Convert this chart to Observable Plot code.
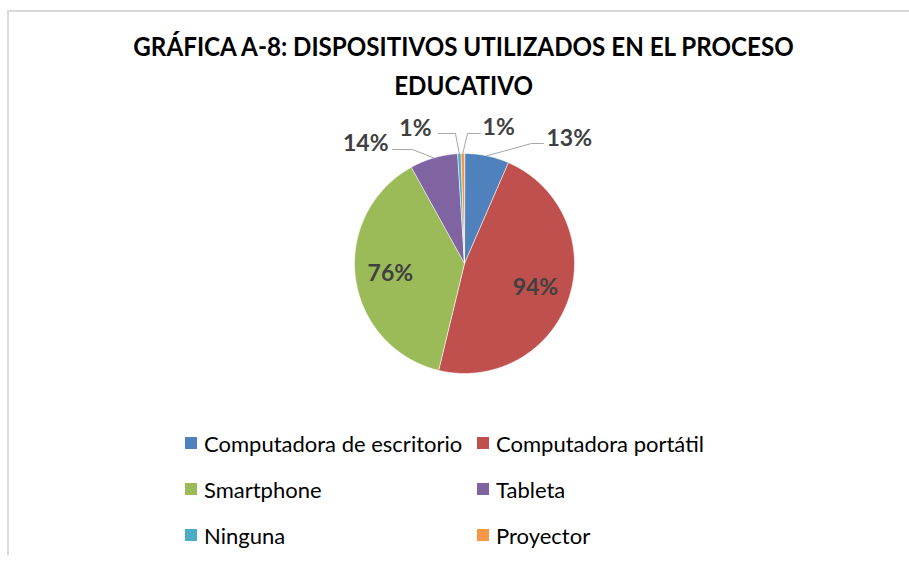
<!DOCTYPE html>
<html><head><meta charset="utf-8">
<script src="https://cdn.jsdelivr.net/npm/d3@7"></script>
<script src="https://cdn.jsdelivr.net/npm/@observablehq/plot@0.6"></script>
<style>
html,body{margin:0;padding:0;background:#fff;}
#chart{position:relative;width:909px;height:561px;overflow:hidden;background:#fff;font-family:Lato,"Open Sans",sans-serif;}
#frame{position:absolute;left:7px;top:10px;width:910px;height:545px;border-top:2px solid #d9d9d9;border-left:2px solid #d9d9d9;box-sizing:border-box;}
#plot{position:absolute;left:0;top:0;}
#title{position:absolute;left:0;width:927px;top:27px;text-align:center;font-weight:bold;font-size:26px;line-height:39px;color:#000;transform:scaleX(0.93);transform-origin:464px 0;}
.leg{position:absolute;display:flex;align-items:center;font-size:22px;color:#000;white-space:nowrap;height:26px;}
.leg span.sw{display:inline-block;width:12px;height:12px;margin-right:7px;}
</style></head>
<body>
<div id="chart">
  <div id="frame"></div>
  <div id="plot"></div>
  <div id="title">GRÁFICA A-8: DISPOSITIVOS UTILIZADOS EN EL PROCESO<br>EDUCATIVO</div>
  <div id="legend"></div>
</div>
<script>
// ---- data ----
const categories = ["Computadora de escritorio", "Computadora portátil", "Smartphone", "Tableta", "Ninguna", "Proyector"];
const values = [13, 94, 76, 14, 1, 1];
const valueLabels = ["13%", "94%", "76%", "14%", "1%", "1%"];
const colors = ["#4F81BD", "#C0504D", "#9BBB59", "#8064A2", "#4BACC6", "#F79646"];

// ---- label layout (radius units, relative to pie centre) ----
const labelLayout = [
  {mode: "out", tx: 0.745, ty: 1.136, anchor: "start", line: [[0.718, 1.091], [0.609, 1.091]]},
  {mode: "in"},
  {mode: "in"},
  {mode: "out", tx: -0.691, ty: 1.091, anchor: "end", line: [[-0.655, 1.036], [-0.473, 1.036]]},
  {mode: "out", tx: -0.300, ty: 1.227, anchor: "end", line: [[-0.236, 1.182], [-0.082, 1.182]]},
  {mode: "out", tx: 0.164, ty: 1.236, anchor: "start", line: [[0.145, 1.182], [0.027, 1.182]]}
];

// ---- geometry from data ----
const W = 909, H = 561, cx = 464, cy = 263, R = 110;
const total = d3.sum(values);
let acc = 0;
const slices = categories.map((name, i) => {
  const a0 = acc / total * 2 * Math.PI;
  acc += values[i];
  const a1 = acc / total * 2 * Math.PI;
  return {name, i, a0, a1, mid: (a0 + a1) / 2};
});
const slicePts = slices.map(s => {
  const pts = [{x: 0, y: 0}];
  const n = Math.max(2, Math.ceil((s.a1 - s.a0) / (Math.PI / 360)));
  for (let k = 0; k <= n; k++) {
    const a = s.a0 + (s.a1 - s.a0) * k / n;
    pts.push({x: Math.sin(a), y: Math.cos(a)});
  }
  return pts;
});

const textData = [];
const leaderMarks = [];
slices.forEach((s, i) => {
  const L = labelLayout[i];
  if (L.mode === "in") {
    textData.push({x: 0.68 * Math.sin(s.mid), y: 0.68 * Math.cos(s.mid), text: valueLabels[i], anchor: "middle"});
  } else {
    textData.push({x: L.tx, y: L.ty, text: valueLabels[i], anchor: L.anchor});
    const pts = [{x: L.line[0][0], y: L.line[0][1]}, {x: L.line[1][0], y: L.line[1][1]}, {x: Math.sin(s.mid), y: Math.cos(s.mid)}];
    leaderMarks.push(Plot.line(pts, {x: "x", y: "y", stroke: "#a6a6a6", strokeWidth: 1}));
  }
});

const textMarks = ["start", "middle", "end"].map(a =>
  Plot.text(textData.filter(d => d.anchor === a), {x: "x", y: "y", text: "text", textAnchor: a,
    fontSize: 23, fontWeight: "bold", fill: "#404040", fontFamily: "Lato, 'Open Sans', sans-serif"}));

const plot = Plot.plot({
  width: W, height: H, margin: 0,
  x: {domain: [-cx / R, (W - cx) / R], axis: null},
  y: {domain: [-(H - cy) / R, cy / R], axis: null},
  style: {background: "transparent"},
  marks: [
    ...slicePts.map((pts, i) => Plot.line(pts, {x: "x", y: "y", fill: colors[i], stroke: "#ffffff", strokeWidth: 0.6, curve: "linear-closed"})),
    ...leaderMarks,
    ...textMarks
  ]
});
document.getElementById("plot").appendChild(plot);

// ---- legend ----
const legPos = [[185, 443], [477, 443], [185, 489], [477, 489], [185, 535], [477, 535]];
const legend = document.getElementById("legend");
categories.forEach((c, i) => {
  const el = document.createElement("div");
  el.className = "leg";
  el.style.left = legPos[i][0] + "px";
  el.style.top = (legPos[i][1] - 13) + "px";
  el.innerHTML = `<span class="sw" style="background:${colors[i]}"></span>${c}`;
  legend.appendChild(el);
});
</script>
</body></html>
